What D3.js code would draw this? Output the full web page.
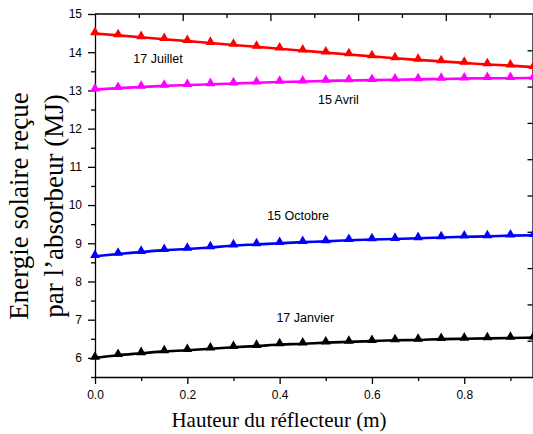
<!DOCTYPE html>
<html>
<head>
<meta charset="utf-8">
<script src="https://cdn.jsdelivr.net/npm/d3@7"></script>
<style>
body { margin: 0; background: #fff; }
svg { display: block; }
</style>
</head>
<body>
<div id="chart"></div>
<script>
// hauteur du reflecteur (m)
var hauteurs = [0, 0.05, 0.1, 0.15, 0.2, 0.25, 0.3, 0.35, 0.4, 0.45, 0.5, 0.55, 0.6, 0.65, 0.7, 0.75, 0.8, 0.85, 0.9, 0.95];

var juillet = [14.49, 14.44, 14.39, 14.34, 14.29, 14.24, 14.19, 14.14, 14.09, 14.04, 13.99, 13.94, 13.89, 13.84, 13.80, 13.76, 13.72, 13.68, 13.65, 13.61];
var avril = [13.02, 13.06, 13.09, 13.12, 13.14, 13.16, 13.18, 13.20, 13.22, 13.23, 13.25, 13.26, 13.27, 13.28, 13.29, 13.30, 13.31, 13.32, 13.32, 13.33];
var octobre = [8.66, 8.72, 8.77, 8.82, 8.85, 8.89, 8.94, 8.97, 9.00, 9.03, 9.05, 9.08, 9.10, 9.11, 9.13, 9.15, 9.17, 9.18, 9.20, 9.21];
var janvier = [6.00, 6.07, 6.12, 6.17, 6.20, 6.24, 6.28, 6.31, 6.35, 6.37, 6.40, 6.42, 6.44, 6.46, 6.47, 6.49, 6.50, 6.51, 6.52, 6.53];

var xTicks = [0, 0.2, 0.4, 0.6, 0.8];
var yTicks = [6, 7, 8, 9, 10, 11, 12, 13, 14, 15];

var series = [
	{ name: "17 Juillet", values: juillet, color: "#ff0000", lx: 0.083, ly: 13.72 },
	{ name: "15 Avril", values: avril, color: "#ff00ff", lx: 0.483, ly: 12.65 },
	{ name: "15 Octobre", values: octobre, color: "#0000ff", lx: 0.373, ly: 9.6 },
	{ name: "17 Janvier", values: janvier, color: "#000000", lx: 0.393, ly: 6.95 }
];

var width = 533, height = 434;
var padding = { left: 95, right: -0.5, top: 14, bottom: 57 };

var svg = d3.select("#chart")
	.append("svg")
	.attr("width", width)
	.attr("height", height);

var x = d3.scaleLinear()
	.domain([0, 0.95])
	.range([padding.left, width - padding.right]);

var y = d3.scaleLinear()
	.domain([5.5, 15])
	.range([height - padding.bottom, padding.top]);

var font = "'Liberation Sans', Arial, sans-serif";
var serif = "'Liberation Serif', 'Times New Roman', serif";

// bottom axis, majors with labels and minors between
svg.append("g")
	.attr("transform", "translate(0," + y(5.5) + ")")
	.call(d3.axisBottom(x).tickValues(d3.range(0.1, 0.95, 0.2)).tickSize(4).tickSizeOuter(0).tickFormat(""))
	.call(function(g){ g.select(".domain").remove(); });
svg.append("g")
	.attr("class", "xmaj")
	.attr("transform", "translate(0," + y(5.5) + ")")
	.call(d3.axisBottom(x).tickValues(xTicks).tickSize(7).tickSizeOuter(0).tickPadding(6).tickFormat(d3.format(".1f")));

// left axis
svg.append("g")
	.attr("transform", "translate(" + padding.left + ",0)")
	.call(d3.axisLeft(y).tickValues(d3.range(5.5, 15, 1)).tickSize(4).tickSizeOuter(0).tickFormat(""))
	.call(function(g){ g.select(".domain").remove(); });
svg.append("g")
	.attr("class", "ymaj")
	.attr("transform", "translate(" + padding.left + ",0)")
	.call(d3.axisLeft(y).tickValues(yTicks).tickSize(7).tickSizeOuter(0).tickPadding(6).tickFormat(d3.format("d")));

// top and right frame with their own inward ticks
var xTop = d3.scaleLinear().domain([0, 10]).range(x.range());
var yRight = d3.scaleLinear().domain([0, 10]).range(y.range());

svg.append("g")
	.attr("transform", "translate(0," + padding.top + ")")
	.call(d3.axisBottom(xTop).tickValues(d3.range(1, 10, 2)).tickSize(4).tickSizeOuter(0).tickFormat(""))
	.call(function(g){ g.select(".domain").attr("d", "M" + x.range()[0] + ",0H" + x.range()[1]); });
svg.append("g")
	.attr("transform", "translate(0," + padding.top + ")")
	.call(d3.axisBottom(xTop).tickValues(d3.range(2, 10, 2)).tickSize(7).tickSizeOuter(0).tickFormat(""))
	.call(function(g){ g.select(".domain").remove(); });

svg.append("g")
	.attr("transform", "translate(" + (width - 0.5) + ",0)")
	.call(d3.axisLeft(yRight).tickValues(d3.range(1, 10, 1)).tickSize(5).tickSizeOuter(0).tickFormat(""));

svg.selectAll(".tick text")
	.attr("font-family", font)
	.attr("font-size", "12px")
	.attr("fill", "#000");
svg.selectAll(".domain, .tick line")
	.attr("stroke", "#000")
	.attr("stroke-width", 1.3);

var line = d3.line()
	.x(function(d, i){ return x(hauteurs[i]); })
	.y(function(d){ return y(d); })
	.curve(d3.curveMonotoneX);

var tri = d3.symbol().type(d3.symbolTriangle).size(42);

var plot = svg.append("g");

series.forEach(function(s){
	plot.append("path")
		.datum(s.values)
		.attr("d", line)
		.attr("fill", "none")
		.attr("stroke", s.color)
		.attr("stroke-width", 2.6);

	plot.selectAll(null)
		.data(s.values)
		.enter()
		.append("path")
		.attr("d", tri)
		.attr("transform", function(d, i){
			return "translate(" + x(hauteurs[i]) + "," + (y(d) - 1) + ")";
		})
		.attr("fill", s.color);

	plot.append("text")
		.attr("x", x(s.lx))
		.attr("y", y(s.ly))
		.attr("font-family", font)
		.attr("font-size", "12.5px")
		.attr("fill", "#000")
		.text(s.name);
});

svg.append("text")
	.attr("x", 279)
	.attr("y", 426.5)
	.attr("text-anchor", "middle")
	.attr("font-family", serif)
	.attr("font-size", "21px")
	.text("Hauteur du réflecteur (m)");

var yTitle = svg.append("text")
	.attr("transform", "translate(0,206) rotate(-90)")
	.attr("text-anchor", "middle")
	.attr("font-family", serif)
	.attr("font-size", "27px");
yTitle.append("tspan").attr("x", 0).attr("y", 28).text("Energie solaire reçue");
yTitle.append("tspan").attr("x", 0).attr("y", 63).text("par l’absorbeur (MJ)");
</script>
</body>
</html>
